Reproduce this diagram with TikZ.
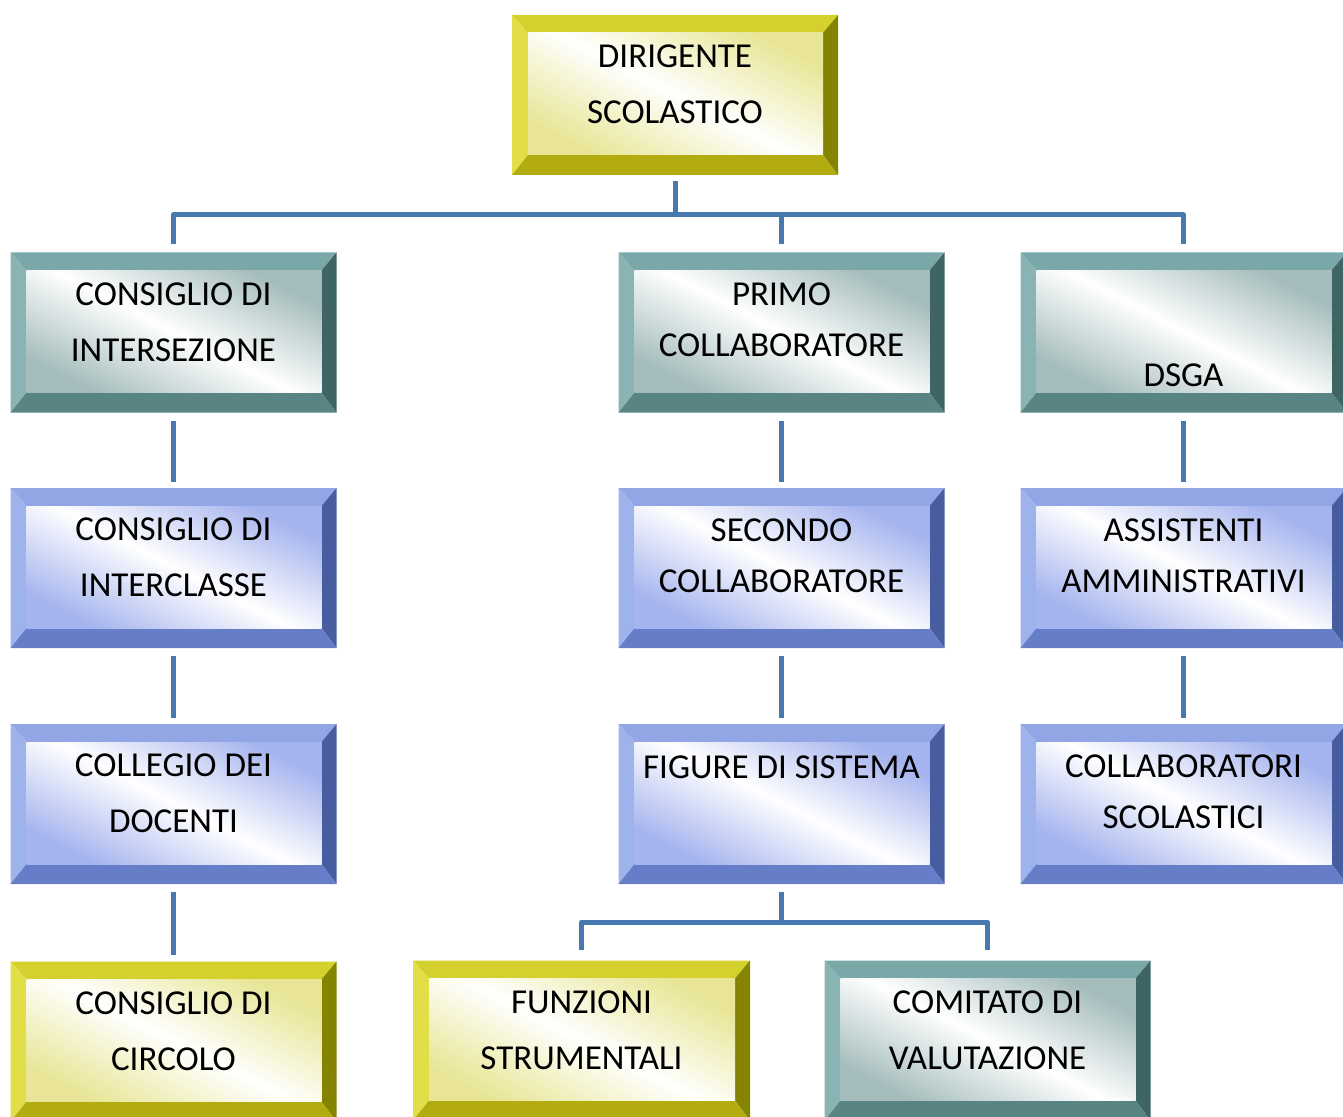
\documentclass[tikz,border=0pt]{standalone}
\usepackage{fontspec}
\setmainfont{Carlito}
\usetikzlibrary{calc}

% bevel colours: yellow (y), teal (t), blue (b)
\definecolor{ytop}{RGB}{212,208,45}
\definecolor{yleft}{RGB}{226,222,72}
\definecolor{yright}{RGB}{132,132,0}
\definecolor{ybot}{RGB}{178,172,16}
\definecolor{ytint}{RGB}{232,230,150}
\definecolor{ttop}{RGB}{122,168,168}
\definecolor{tleft}{RGB}{138,180,180}
\definecolor{tright}{RGB}{62,100,100}
\definecolor{tbot}{RGB}{88,132,132}
\definecolor{ttint}{RGB}{165,188,188}
\definecolor{btop}{RGB}{146,166,230}
\definecolor{bleft}{RGB}{158,178,236}
\definecolor{bright}{RGB}{72,92,160}
\definecolor{bbot}{RGB}{102,126,200}
\definecolor{btint}{RGB}{165,180,238}
\definecolor{linkblue}{RGB}{72,120,176}

\tikzset{
	bevel/.style={minimum width=163pt, minimum height=80pt, inner sep=0pt, align=center,
		font=\fontsize{17.5}{28}\selectfont, text height=40pt, text depth=11.3pt,
		path picture={
			\coordinate (bsw) at (path picture bounding box.south west);
			\coordinate (bne) at (path picture bounding box.north east);
			\coordinate (bnw) at (bsw |- bne);
			\coordinate (bse) at (bne |- bsw);
			\coordinate (isw) at ($(bsw)+(8pt,10pt)$);
			\coordinate (ine) at ($(bne)+(-7.5pt,-9pt)$);
			\coordinate (inw) at (isw |- ine);
			\coordinate (ise) at (ine |- isw);
			\fill[#1top] (bnw) -- (bne) -- (ine) -- (inw) -- cycle;
			\fill[#1left] (bnw) -- (inw) -- (isw) -- (bsw) -- cycle;
			\fill[#1right] (bne) -- (bse) -- (ise) -- (ine) -- cycle;
			\fill[#1bot] (bsw) -- (isw) -- (ise) -- (bse) -- cycle;
			\shade[top color=#1tint, bottom color=#1tint, middle color=white, shading angle=-27] (isw) rectangle (ine);
		}},
	tight/.style={font=\fontsize{17.5}{25.5}\selectfont, text depth=15.8pt},
	conn/.style={draw=linkblue, line width=2.5pt, line join=round, shorten <=4pt, shorten >=3pt}
}

\begin{document}
\begin{tikzpicture}[x=0.5pt,y=-0.5pt]
	\clip (0,0) rectangle (1343,1117);
	\node (ds) at ( 675,   95)	[bevel=y]	{DIRIGENTE\\SCOLASTICO};
	\node (ci) at ( 173.5, 332.5)	[bevel=t]	{CONSIGLIO DI\\INTERSEZIONE};
	\node (pc) at ( 781.5, 332.5)	[bevel=t, tight]	{PRIMO\\COLLABORATORE};
	\node (dsga) at (1183.5, 332.5)	[bevel=t, text height=60pt, text depth=6pt]	{DSGA};
	\node (cl) at ( 173.5, 568)	[bevel=b]	{CONSIGLIO DI\\INTERCLASSE};
	\node (sc) at ( 781.5, 568)	[bevel=b, tight]	{SECONDO\\COLLABORATORE};
	\node (aa) at (1183.5, 568)	[bevel=b, tight]	{ASSISTENTI\\AMMINISTRATIVI};
	\node (cd) at ( 173.5, 804)	[bevel=b]	{COLLEGIO DEI\\DOCENTI};
	\node (fs) at ( 781.5, 804)	[bevel=b, text height=12pt, text depth=37.4pt]	{FIGURE DI SISTEMA};
	\node (cs) at (1183.5, 804)	[bevel=b, tight]	{COLLABORATORI\\SCOLASTICI};
	\node (cc) at ( 173.5, 1041.5)	[bevel=y]	{CONSIGLIO DI\\CIRCOLO};
	\node (fz) at ( 581.5, 1040.5)	[bevel=y, minimum width=168.5pt]	{FUNZIONI\\STRUMENTALI};
	\node (cv) at ( 987.5, 1040.5)	[bevel=t]	{COMITATO DI\\VALUTAZIONE};
	\coordinate (top) at (675, 215);
	\coordinate (fork) at (781.5, 922);
	\draw[conn, shorten <=3pt, shorten >=0pt] (ds) -- (top);
	\draw[conn, shorten >=4pt] (ci.north) |- (top) -| (dsga.north);
	\draw[conn, shorten <=0pt, shorten >=4pt] (top -| pc.north) -- (pc.north);
	\draw[conn] (ci) -- (cl);
	\draw[conn] (pc) -- (sc);
	\draw[conn] (dsga) -- (aa);
	\draw[conn] (cl) -- (cd);
	\draw[conn] (sc) -- (fs);
	\draw[conn] (aa) -- (cs);
	\draw[conn] (cd) -- (cc);
	\draw[conn, shorten >=0pt] (fs) -- (fork);
	\draw[conn, shorten <=5pt, shorten >=5pt] (fz.north) |- (fork) -| (cv.north);
\end{tikzpicture}
\end{document}
